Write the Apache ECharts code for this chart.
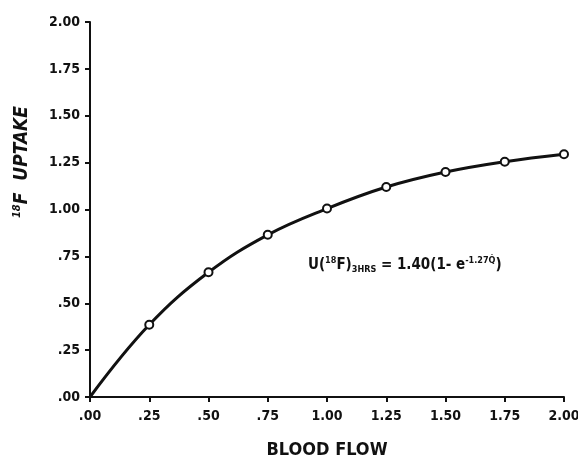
<!DOCTYPE html>
<html>
<head>
<meta charset="utf-8">
<script src="https://cdn.jsdelivr.net/npm/echarts@6/dist/echarts.min.js"></script>
<style>html,body{margin:0;padding:0;background:#fff}#c{width:578px;height:458px}</style>
</head>
<body>
<div id="c"></div>
<script>
var bloodFlow = [0, 0.25, 0.50, 0.75, 1.00, 1.25, 1.50, 1.75, 2.00];
var uptake    = [0, 0.385, 0.665, 0.865, 1.005, 1.12, 1.20, 1.255, 1.295];
var markedFrom = 1; // first point (origin) has no marker
var xTicks = ['.00', '.25', '.50', '.75', '1.00', '1.25', '1.50', '1.75', '2.00'];
var yTicks = ['.00', '.25', '.50', '.75', '1.00', '1.25', '1.50', '1.75', '2.00'];

var FONT = '"Liberation Sans Narrow", "DejaVu Sans Condensed", sans-serif';
var chart = echarts.init(document.getElementById('c'), null, {renderer: 'canvas'});

var data = bloodFlow.map(function (x, i) {
  var d = {value: [x, uptake[i]]};
  if (i < markedFrom) d.symbol = 'none';
  return d;
});

function tickLabel(list) {
  return function (v) { return list[Math.round(v / 0.25)]; };
}

chart.setOption({
  animation: false,
  backgroundColor: '#fff',
  grid: {left: 90, right: 14, top: 22, bottom: 61, containLabel: false, outerBoundsMode: 'none'},
  xAxis: {
    type: 'value', min: 0, max: 2, interval: 0.25,
    name: 'BLOOD FLOW', nameLocation: 'middle', nameGap: 44,
    nameTextStyle: {fontFamily: FONT, fontSize: 18, fontWeight: 'bold', color: '#111'},
    axisLine: {show: true, lineStyle: {color: '#111', width: 2}},
    axisTick: {show: true, length: 5, lineStyle: {color: '#111', width: 2}},
    axisLabel: {formatter: tickLabel(xTicks), margin: 12, fontFamily: FONT, fontSize: 14, fontWeight: 'bold', color: '#111'},
    splitLine: {show: false}
  },
  yAxis: {
    type: 'value', min: 0, max: 2, interval: 0.25,
    axisLine: {show: true, lineStyle: {color: '#111', width: 2}},
    axisTick: {show: true, length: 5, lineStyle: {color: '#111', width: 2}},
    axisLabel: {formatter: tickLabel(yTicks), margin: 10, fontFamily: FONT, fontSize: 14, fontWeight: 'bold', color: '#111'},
    splitLine: {show: false}
  },
  series: [{
    type: 'line',
    data: data,
    smooth: 0.4,
    symbol: 'circle',
    symbolSize: 8,
    showAllSymbol: true,
    lineStyle: {color: '#111', width: 3},
    itemStyle: {color: '#fff', borderColor: '#111', borderWidth: 2}
  }],
  graphic: [
    {
      type: 'text', x: 22, y: 162, rotation: Math.PI / 2, z: 10,
      style: {
        text: '{sup|18}{m|F  UPTAKE}',
        align: 'center', verticalAlign: 'middle',
        rich: {
          sup: {fontFamily: FONT, fontSize: 11, fontWeight: 'bold', fontStyle: 'italic', fill: '#111', verticalAlign: 'top', padding: [0, 0, 10, 0]},
          m: {fontFamily: FONT, fontSize: 19, fontWeight: 'bold', fontStyle: 'italic', fill: '#111'}
        }
      }
    },
    {
      type: 'text', left: 308, top: 256, z: 10,
      style: {
        text: '{m|U(}{sup|18}{m|F)}{sub|3HRS}{m| = 1.40(1- e}{sup|-1.27Q\u0307}{m|)}',
        rich: {
          m: {fontFamily: FONT, fontSize: 15, fontWeight: 'bold', fill: '#111'},
          sup: {fontFamily: FONT, fontSize: 9, fontWeight: 'bold', fill: '#111', padding: [0, 0, 10, 0]},
          sub: {fontFamily: FONT, fontSize: 9, fontWeight: 'bold', fill: '#111', padding: [8, 0, 0, 0]}
        }
      }
    }
  ]
});
</script>
</body>
</html>
